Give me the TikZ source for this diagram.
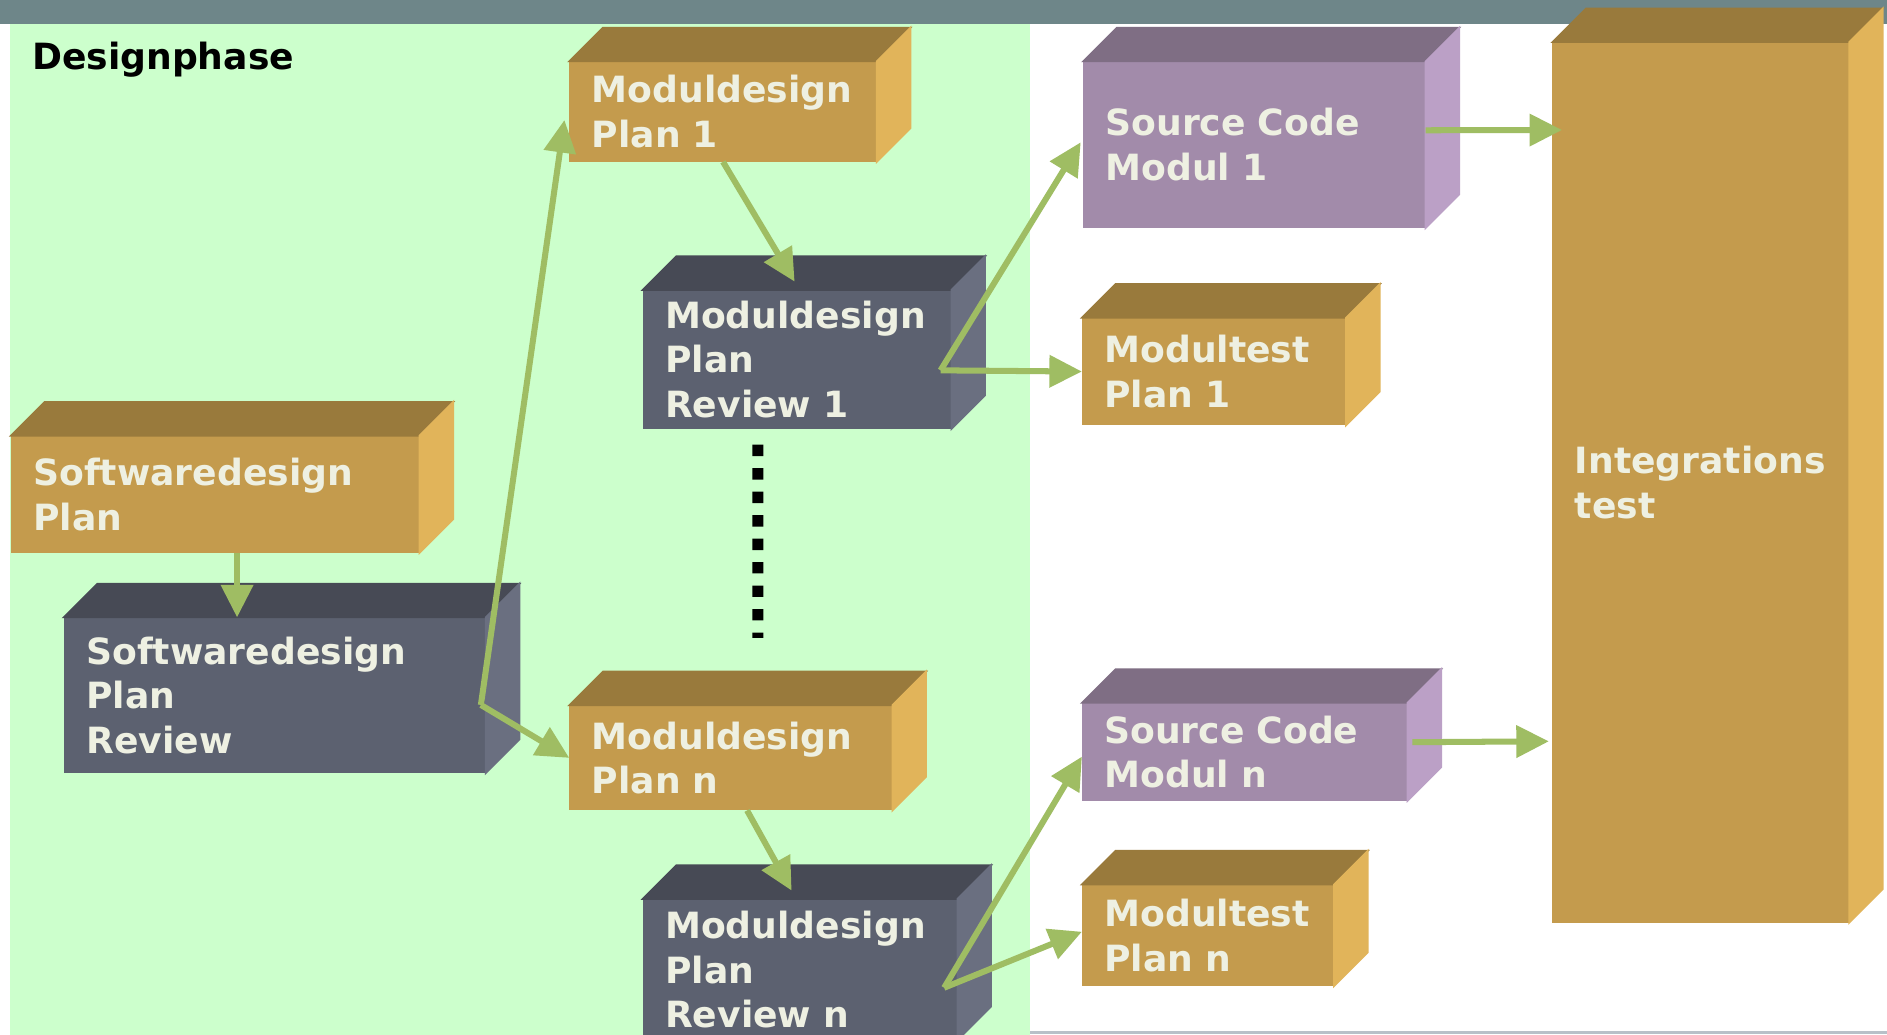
\documentclass[tikz,border=0pt]{standalone}
\usepackage{fontspec}
\setmainfont{DejaVu Sans}
\usetikzlibrary{arrows.meta}
\hyphenpenalty=10000
\exhyphenpenalty=10000

\definecolor{barGray}{RGB}{110,134,137}
\definecolor{phaseGreen}{RGB}{204,255,204}
\definecolor{lineGray}{RGB}{184,192,200}
\definecolor{goldFront}{RGB}{196,155,77}
\definecolor{goldTop}{RGB}{153,122,60}
\definecolor{goldSide}{RGB}{225,180,90}
\definecolor{slateFront}{RGB}{92,97,112}
\definecolor{slateTop}{RGB}{71,74,85}
\definecolor{slateSide}{RGB}{106,111,128}
\definecolor{lilacFront}{RGB}{162,139,170}
\definecolor{lilacTop}{RGB}{127,110,132}
\definecolor{lilacSide}{RGB}{187,160,198}
\definecolor{boxText}{RGB}{238,240,226}
\definecolor{arrowGreen}{RGB}{159,189,99}

\tikzset{
  cubebox/.style={rectangle, anchor=north west, align=left, inner xsep=0.18cm, inner ysep=0pt, line width=0.4pt, text=boxText, font=\fontsize{0.30cm}{0.37cm}\selectfont\bfseries},
  goldbox/.style={cubebox, fill=goldFront, draw=goldFront},
  slatebox/.style={cubebox, fill=slateFront, draw=slateFront},
  lilacbox/.style={cubebox, fill=lilacFront, draw=lilacFront},
  flow/.style={draw=arrowGreen, line width=0.05cm, -{Triangle[length=0.27cm,width=0.26cm]}},
}

% top and right face of a box
\newcommand{\extrude}[3]{%
  \filldraw[fill=#2, draw=#2, line width=0.4pt] (#1.north west) -- ++(28,-28) -- ([shift={(28,-28)}]#1.north east) -- (#1.north east) -- cycle;%
  \filldraw[fill=#3, draw=#3, line width=0.4pt] (#1.north east) -- ++(28,-28) -- ([shift={(28,-28)}]#1.south east) -- (#1.south east) -- cycle;%
}

\begin{document}
\begin{tikzpicture}[x=0.01cm, y=-0.01cm]%
\begin{scope}
\clip (0,0) rectangle (1568,860);
\fill[white] (0,0) rectangle (1568,860);
\fill[phaseGreen] (8,20) rectangle (856,860);
\fill[barGray] (0,0) rectangle (1568,20);
\draw[lineGray, line width=0.02cm] (856,858) -- (1568,858);
\node[anchor=base west, inner sep=0pt, font=\fontsize{0.30cm}{0.37cm}\selectfont\bfseries] (phase) at (26,58) {Designphase};%
% design phase
\node[goldbox, text width=3.02cm, minimum height=0.96cm] (swplan) at (9,362) {Softwaredesign\\Plan};%
\extrude{swplan}{goldTop}{goldSide}
\node[slatebox, text width=3.13cm, minimum height=1.28cm] (swrev) at (53,513) {Softwaredesign\\Plan\\Review};%
\extrude{swrev}{slateTop}{slateSide}
\node[goldbox, text width=2.18cm, minimum height=0.82cm] (md1) at (473,51) {Moduldesign\\Plan 1};%
\extrude{md1}{goldTop}{goldSide}
\node[slatebox, text width=2.19cm, minimum height=1.14cm] (mdr1) at (534,241) {Moduldesign\\Plan\\Review 1};%
\extrude{mdr1}{slateTop}{slateSide}
\node[goldbox, text width=2.31cm, minimum height=0.86cm] (mdn) at (473,586) {Moduldesign\\Plan n};%
\extrude{mdn}{goldTop}{goldSide}
\node[slatebox, text width=2.24cm, minimum height=1.16cm] (mdrn) at (534,747) {Moduldesign\\Plan\\Review n};%
\extrude{mdrn}{slateTop}{slateSide}
% code and tests
\node[lilacbox, text width=2.47cm, minimum height=1.37cm] (sc1) at (900,51) {Source Code\\Modul 1};%
\extrude{sc1}{lilacTop}{lilacSide}
\node[goldbox, text width=1.82cm, minimum height=0.88cm] (mt1) at (899,264) {Modultest\\Plan 1};%
\extrude{mt1}{goldTop}{goldSide}
\node[lilacbox, text width=2.33cm, minimum height=0.80cm] (scn) at (899,584) {Source Code\\Modul n};%
\extrude{scn}{lilacTop}{lilacSide}
\node[goldbox, text width=1.72cm, minimum height=0.83cm] (mtn) at (899,735) {Modultest\\Plan n};%
\extrude{mtn}{goldTop}{goldSide}
\node[goldbox, text width=2.09cm, minimum height=7.30cm] (integ) at (1290,35) {Integrations\\test};%
\extrude{integ}{goldTop}{goldSide}
% arrows
\draw[flow] ([shift={(188,0)}]swplan.south west) -- ([shift={(144,0)}]swrev.north west);
\coordinate (swfork) at ([shift={(-4,8)}]swrev.east);
\draw[flow] (swfork) -- ([shift={(-4,7)}]md1.west);
\draw[flow] (swfork) -- (mdn.west);
\draw[flow] (md1.south) -- ([shift={(-2,-7)}]mdr1.north);
\coordinate (r1fork) at ([shift={(-9,9)}]mdr1.east);
\draw[flow] (r1fork) -- ([shift={(-2,-2)}]sc1.west);
\draw[flow] (r1fork) -- (mt1.west);
\draw[black, line width=0.09cm, dash pattern=on 0.095cm off 0.1cm] ([shift={(-32.5,13)}]mdr1.south) -- ([shift={(22.5,-56)}]mdn.north);
\draw[flow] ([shift={(13.5,0)}]mdn.south) -- ([shift={(-7,-7)}]mdrn.north);
\coordinate (rnfork) at ([shift={(-11,15)}]mdrn.east);
\draw[flow] (rnfork) -- ([shift={(0,4)}]scn.west);
\draw[flow] (rnfork) -- ([shift={(0,-3)}]mtn.west);
\draw[flow] ([shift={(0,-12)}]sc1.east) -- ([shift={(8,73)}]integ.north west);
\draw[flow] ([shift={(4,-8)}]scn.east) -- ([shift={(-3,581)}]integ.north west);
\end{scope}
\pgfresetboundingbox
\useasboundingbox (0,0) rectangle (1568,860);
\end{tikzpicture}
\end{document}
